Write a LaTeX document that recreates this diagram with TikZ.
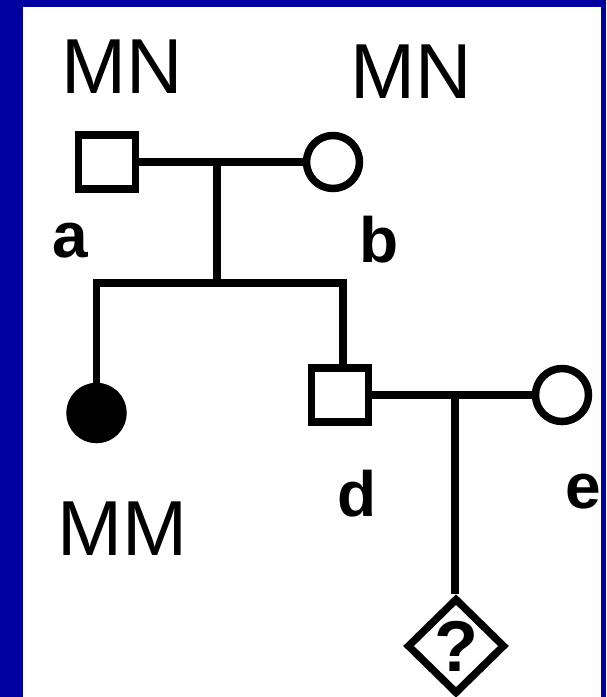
\documentclass[tikz,border=0pt]{standalone}
\usepackage{fontspec}
\setmainfont{Liberation Sans}
\usetikzlibrary{shapes.geometric}
\definecolor{frameblue}{RGB}{0,0,160}
\begin{document}
\begin{tikzpicture}[x=1pt,y=-1pt,
  lw/.style={line width=7.5pt},
  male/.style={draw,lw,rectangle,minimum width=57pt,minimum height=54pt,inner sep=0pt},
  female/.style={draw,lw,circle,minimum size=53pt,inner sep=0pt},
  affected/.style={female,fill=black},
  unknown/.style={draw,lw,diamond,minimum width=98pt,minimum height=96pt,inner sep=0pt,
     font=\fontsize{72}{74}\selectfont\bfseries},
  geno/.style={anchor=base,inner sep=0pt,font=\fontsize{78}{80}\selectfont},
  idlab/.style={anchor=base,inner sep=0pt,font=\fontsize{64}{66}\selectfont\bfseries},
  conn/.style={lw}]
\useasboundingbox (0,0) rectangle (606,697);
\fill[frameblue] (0,0) rectangle (606,697);
\fill[white] (23,7) rectangle (601,697);

% individuals
\node[male] (a) at (107,162) {};
\node[female] (b) at (333,162) {};
\node[affected] (c) at (96.5,413) {};
\node[male] (d) at (340,395) {};
\node[female] (e) at (562,395) {};
\node[unknown] (f) at (456,646) {?};

% junction coordinates
\coordinate (m1) at (217,162);
\coordinate (s1) at (217,283);
\coordinate (cl) at (96.5,283);
\coordinate (cr) at (343,283);
\coordinate (m2) at (455,395);

% connectors
\draw[conn] (a) -- (b);
\draw[conn] (m1) -- (s1);
\draw[conn,line cap=rect] (cl) -- (cr);
\draw[conn] (cl) -- (c);
\draw[conn] (cr) -- (cr |- d.north);
\draw[conn] (d) -- (e);
\draw[conn] (m2) -- (m2 |- f.north);

% labels
\node[geno] (ga) at (122.5,93) {MN};
\node[geno] (gb) at (411,98) {MN};
\node[geno] (gc) at (122.5,555) {MM};
\node[idlab] (la) at (70.5,257) {a};
\node[idlab] (lb) at (379,262) {b};
\node[idlab] (ld) at (357,516) {d};
\node[idlab] (le) at (583,508) {e};

% right border over labels
\fill[frameblue] (601,0) rectangle (606,697);
\end{tikzpicture}
\end{document}
